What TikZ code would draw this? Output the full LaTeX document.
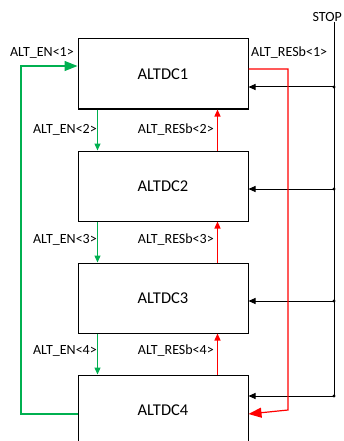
\documentclass[tikz,border=0pt]{standalone}
\usepackage{fontspec}
\setmainfont{Carlito}
\usetikzlibrary{positioning,calc,arrows.meta}
\definecolor{EnGreen}{HTML}{00B050}
\definecolor{ResRed}{HTML}{FF0000}
\begin{document}
\begin{tikzpicture}[
			x=1pt,y=-1pt,
			node distance=41pt,
			block/.style={draw, line width=1pt, minimum width=170pt, minimum height=70pt, inner sep=0pt, font=\fontsize{16.5}{18}\selectfont},
			sig/.style={font=\fontsize{14}{16}\selectfont, inner sep=1pt},
			small tip/.style={-{Triangle[length=7pt,width=6pt]}},
			big tip/.style={-{Triangle[length=13pt,width=10pt]}}
			]
			\useasboundingbox (0,0) rectangle (344,441);
			
			% ALTDC blocks
			\node[block] (dc1) at (163,74) {ALTDC1};
			\node[block, below=of dc1] (dc2) {ALTDC2};
			\node[block, below=of dc2] (dc3) {ALTDC3};
			\node[block, below=of dc3] (dc4) {ALTDC4};
			
			% STOP bus
			\coordinate (stoptop) at (334,22);
			\coordinate (tap1) at ($(stoptop |- dc1.east)+(0,13)$);
			\coordinate (tap2) at ($(stoptop |- dc2.east)+(0,3)$);
			\coordinate (tap3) at ($(stoptop |- dc3.east)+(0,3)$);
			\coordinate (tap4) at ($(stoptop |- dc4.east)+(0,-14)$);
			\node[sig, anchor=south east] (stop) at (343,23) {STOP};
			\draw[line width=1pt] (stoptop) -- (tap4);
			\fill (tap1) circle (1.6);
			\fill (tap2) circle (1.6);
			\fill (tap3) circle (1.6);
			\fill (tap4) circle (1.6);
			\draw[line width=1pt, small tip] (tap1) -- (dc1.east |- tap1);
			\draw[line width=1pt, small tip] (tap2) -- (dc2.east |- tap2);
			\draw[line width=1pt, small tip] (tap3) -- (dc3.east |- tap3);
			\draw[line width=1pt, small tip] (tap4) -- (dc4.east |- tap4);
			
			% enable chain (green)
			\draw[EnGreen, line width=1.2pt, small tip] ($(dc1.south west)+(20,0)$) -- ($(dc2.north west)+(20,0)$);
			\draw[EnGreen, line width=1.2pt, small tip] ($(dc2.south west)+(20,0)$) -- ($(dc3.north west)+(20,0)$);
			\draw[EnGreen, line width=1.2pt, small tip] ($(dc3.south west)+(20,0)$) -- ($(dc4.north west)+(20,0)$);
			\draw[EnGreen, line width=1.2pt, big tip] ($(dc4.west)+(0,4)$) -| (21,66) -- ($(dc1.west)+(0,-8)$);
			\node[sig, anchor=south east] (en1) at (75,60) {ALT\_EN<1>};
			\node[sig, anchor=east] (en2) at (98,130) {ALT\_EN<2>};
			\node[sig, anchor=east] (en3) at (98,240) {ALT\_EN<3>};
			\node[sig, anchor=east] (en4) at (98,351) {ALT\_EN<4>};
			
			% reset chain (red)
			\draw[ResRed, line width=1.2pt, small tip] ($(dc2.north west)+(140,0)$) -- ($(dc1.south west)+(140,0)$);
			\draw[ResRed, line width=1.2pt, small tip] ($(dc3.north west)+(140,0)$) -- ($(dc2.south west)+(140,0)$);
			\draw[ResRed, line width=1.2pt, small tip] ($(dc4.north west)+(140,0)$) -- ($(dc3.south west)+(140,0)$);
			\draw[ResRed, line width=1.2pt, big tip] ($(dc1.east)+(0,-5)$) -| (288,410) -- ($(dc4.east)+(0,4)$);
			\node[sig, anchor=south west] (res1) at (250,60) {ALT\_RESb<1>};
			\node[sig, anchor=east] (res2) at (215,130) {ALT\_RESb<2>};
			\node[sig, anchor=east] (res3) at (215,240) {ALT\_RESb<3>};
			\node[sig, anchor=east] (res4) at (215,351) {ALT\_RESb<4>};
			
		\end{tikzpicture}
\end{document}
